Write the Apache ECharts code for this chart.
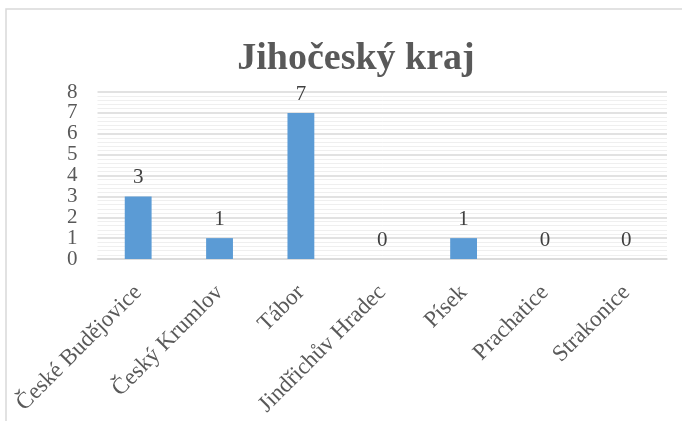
<!DOCTYPE html>
<html>
<head>
<meta charset="utf-8">
<script src="https://cdn.jsdelivr.net/npm/echarts@6/dist/echarts.min.js"></script>
<style>
  html, body { margin: 0; padding: 0; background: #fff; }
  #main { width: 682px; height: 421px; }
</style>
</head>
<body>
<div id="main"></div>
<script>
// data
var titleText = 'Jihočeský kraj';
var cities = ['České Budějovice', 'Český Krumlov', 'Tábor', 'Jindřichův Hradec', 'Písek', 'Prachatice', 'Strakonice'];
var counts = [3, 1, 7, 0, 1, 0, 0];
var yMin = 0, yMax = 8, yStep = 1;

var serif = '"Liberation Serif", "DejaVu Serif", serif';

var chart = echarts.init(document.getElementById('main'));
chart.setOption({
  animation: false,
  backgroundColor: '#fff',
  graphic: [{
    type: 'rect',
    shape: { x: 6, y: 9, width: 700, height: 450 },
    style: { fill: 'none', stroke: '#d9d9d9', lineWidth: 1.5 },
    silent: true
  }],
  title: {
    text: titleText,
    left: 351,
    top: 35,
    textAlign: 'center',
    textStyle: { fontFamily: serif, fontSize: 38, fontWeight: 'bold', color: '#595959' }
  },
  grid: { left: 97.5, right: 15, top: 92, bottom: 162 },
  xAxis: {
    type: 'category',
    data: cities,
    axisLine: { lineStyle: { color: '#d9d9d9', width: 1.5 } },
    axisTick: { show: false },
    axisLabel: {
      interval: 0,
      rotate: 45,
      margin: 30,
      fontFamily: serif,
      fontSize: 23,
      color: '#595959'
    }
  },
  yAxis: {
    type: 'value',
    min: yMin,
    max: yMax,
    interval: yStep,
    axisLine: { show: false },
    axisTick: { show: false },
    axisLabel: { margin: 20, fontFamily: serif, fontSize: 21, color: '#595959' },
    splitLine: { lineStyle: { color: '#d9d9d9', width: 1.5 } },
    minorTick: { show: false, splitNumber: 5 },
    minorSplitLine: { show: true, lineStyle: { color: '#efefef', width: 1 } }
  },
  series: [{
    type: 'bar',
    data: counts,
    barWidth: '33%',
    itemStyle: { color: '#5b9bd5' },
    label: {
      show: true,
      position: 'top',
      distance: 8,
      fontFamily: serif,
      fontSize: 21,
      color: '#404040'
    }
  }]
});
</script>
</body>
</html>
